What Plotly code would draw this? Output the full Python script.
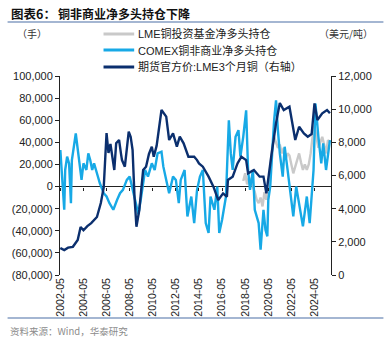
import plotly.graph_objects as go

# ---------------- data ----------------
comex_dates = ["2002-05","2002-07","2002-09","2002-10","2002-12","2003-02","2003-04","2003-05","2003-07","2003-09",
               "2003-12","2004-03","2004-05","2004-08","2004-10","2004-12","2005-02","2005-04","2005-07","2005-10",
               "2006-02","2006-05","2006-08","2006-12","2007-04","2007-07","2007-10","2008-02","2008-05","2008-09",
               "2008-11","2009-02","2009-05","2009-09","2009-12","2010-04","2010-07","2010-10","2011-02","2011-04",
               "2011-07","2011-10","2012-02","2012-05","2012-08","2012-10","2013-02","2013-05","2013-09","2013-12",
               "2014-03","2014-06","2014-09","2014-12","2015-03","2015-05","2015-09","2015-12","2016-02","2016-05",
               "2016-09","2016-12","2017-02","2017-04","2017-07","2017-10","2017-12","2018-03","2018-06","2018-08",
               "2018-10","2019-01","2019-03","2019-07","2019-09","2019-12","2020-02","2020-04","2020-05","2020-07",
               "2020-11","2021-01","2021-03","2021-05","2021-08","2021-10","2022-01","2022-05","2022-07","2022-10",
               "2023-02","2023-05","2023-09","2023-12","2024-04","2024-06","2024-09","2024-12","2025-02","2025-05",
               "2025-09"]
comex_values = [33000, 9000, -21000, 15000, 27000, 21000, -15000, 24000, 36000, 48000,
                27000, 6000, 21000, 15000, 30000, 24000, 15000, 21000, 12000, 3000,
                -6000, -9000, -15000, -21000, -12000, -6000, -3000, 6000, 9000, -6000,
                -15000, -25000, -9000, 15000, 9000, 21000, 15000, 30000, 31500, 18000,
                6000, -6000, 9000, 6000, -15000, 6000, 15000, -27000, -9000, -33000,
                -3000, 9000, 15000, -33000, -42000, -9000, -21000, 0, -42000, -30000,
                -9000, 60000, 30000, 15000, 45000, 51000, 27000, 45000, 69000, 15000,
                -3000, 15000, -21000, -33000, -57000, -21000, -39000, -45000, -12000, 0,
                60000, 78000, 51000, 30000, 9000, 36000, 15000, -15000, -27000, 0,
                -21000, -36000, -9000, -33000, 15000, 75000, 45000, 21000, 39000, 15000,
                42000]

lme_fund_dates = ["2018-03","2018-05","2018-07","2018-09","2018-11","2019-01","2019-03","2019-05","2019-07","2019-09",
                  "2019-11","2020-01","2020-03","2020-05","2020-07","2020-09","2020-11","2021-01","2021-03","2021-05",
                  "2021-07","2021-09","2021-11","2022-01","2022-03","2022-05","2022-07","2022-09","2022-11","2023-01",
                  "2023-03","2023-05","2023-07","2023-09","2023-11","2024-01","2024-03","2024-05","2024-07","2024-09",
                  "2024-11","2025-01","2025-03","2025-05","2025-07","2025-09"]
lme_fund_values = [5000, 12000, 2000, 8000, 5000, 0, -5000, -12000, -15000, -10000,
                   -18000, -5000, -12000, 0, 20000, 35000, 45000, 40000, 35000, 38000,
                   30000, 35000, 25000, 30000, 28000, 20000, 12000, 18000, 25000, 30000,
                   22000, 15000, 20000, 15000, 20000, 30000, 45000, 55000, 45000, 35000,
                   40000, 45000, 38000, 30000, 42000, 40000]

price_dates = ["2002-05","2002-09","2003-01","2003-06","2003-11","2004-02","2004-05","2004-09","2005-01","2005-07",
               "2005-11","2006-02","2006-05","2006-07","2006-09","2006-11","2007-01","2007-03","2007-06","2007-08",
               "2007-09","2007-12","2008-02","2008-04","2008-06","2008-08","2008-10","2008-12","2009-03","2009-07",
               "2009-10","2010-01","2010-04","2010-06","2010-09","2010-12","2011-02","2011-07","2011-10","2012-02",
               "2012-06","2012-09","2013-01","2013-06","2013-12","2014-03","2014-05","2014-09","2015-03","2015-08",
               "2016-01","2016-06","2016-10","2016-11","2017-04","2017-09","2018-01","2018-06","2018-08","2019-02",
               "2019-08","2019-12","2020-03","2020-08","2021-01","2021-05","2021-09","2022-03","2022-07","2022-09",
               "2023-01","2023-06","2023-10","2024-02","2024-05","2024-08","2025-01","2025-06","2025-09"]
price_values = [1630, 1500, 1650, 1700, 2110, 2900, 2700, 2950, 3130, 3500,
                4340, 5300, 8560, 7360, 7900, 7000, 6330, 7940, 8140, 7300,
                6930, 6530, 7600, 8640, 8340, 7540, 4720, 2910, 3920, 6330,
                6530, 7300, 7740, 7130, 7800, 8940, 9950, 9550, 8140, 8540,
                7740, 8340, 7940, 7130, 7130, 6930, 6730, 6530, 5930, 5330,
                4520, 4920, 4720, 5730, 5930, 6730, 7130, 6930, 6130, 6330,
                5930, 5930, 4920, 7130, 9160, 10370, 9950, 10150, 8740, 8140,
                8940, 8540, 8340, 8500, 10350, 9350, 9750, 9950, 9750]

left_tickvals = [100000, 80000, 60000, 40000, 20000, 0, -20000, -40000, -60000, -80000]
left_ticktext = ["100,000", "80,000", "60,000", "40,000", "20,000", "0",
                 "(20,000)", "(40,000)", "(60,000)", "(80,000)"]

names = ["LME铜投资基金净多头持仓", "COMEX铜非商业净多头持仓", "期货官方价:LME3个月铜（右轴）"]
colors = ["#C9C9C9", "#17A9E6", "#0B2F6E"]

FONT = "Arial, 'Liberation Sans', 'Noto Sans CJK SC', sans-serif"
CJK = "'Noto Sans CJK SC', sans-serif"

fig = go.Figure()
fig.add_trace(go.Scatter(x=lme_fund_dates, y=lme_fund_values, name=names[0], mode="lines",
                         line=dict(color=colors[0], width=2.4)))
fig.add_trace(go.Scatter(x=comex_dates, y=comex_values, name=names[1], mode="lines",
                         line=dict(color=colors[1], width=2.4)))
fig.add_trace(go.Scatter(x=price_dates, y=price_values, name=names[2], mode="lines", yaxis="y2",
                         line=dict(color=colors[2], width=2.4)))

xr = ["2002-04-20", "2025-10-05"]
fig.update_layout(
    width=388, height=343,
    margin=dict(l=57, r=57, t=76, b=68),
    paper_bgcolor="white", plot_bgcolor="white",
    font=dict(family=FONT, size=11, color="#222"),
    showlegend=False,
    xaxis=dict(type="date", range=xr, tickformat="%Y-%m", tick0="2002-05-01", dtick="M24",
               tickangle=-90, showgrid=False, showline=False, ticks="", zeroline=False,
               tickfont=dict(size=10.5)),
    xaxis2=dict(type="date", range=xr, overlaying="x", anchor="free", position=(275-187)/199,
                tick0="2002-05-01", dtick="M24", showticklabels=False, showgrid=False,
                showline=False, ticks="outside", ticklen=3, tickcolor="#222", zeroline=False),
    yaxis=dict(range=[-80000, 100000], tickvals=left_tickvals, ticktext=left_ticktext,
               showgrid=False, showline=True, linecolor="#222", linewidth=1,
               ticks="outside", ticklen=4, tickcolor="#222",
               zeroline=True, zerolinecolor="#222", zerolinewidth=1),
    yaxis2=dict(range=[0, 12000], overlaying="y", side="right", dtick=2000, tickformat=",",
                showgrid=False, showline=True, linecolor="#222", linewidth=1,
                ticks="outside", ticklen=4, tickcolor="#222", zeroline=False),
)

# invisible point keeps the zero-line tick axis active
fig.add_trace(go.Scatter(x=[xr[0]], y=[0], xaxis="x2", mode="markers",
                         marker=dict(opacity=0), showlegend=False, hoverinfo="skip"))

def px_x(p):
    return (p - 57) / 274

def px_y(p):
    return (275 - p) / 199

# manual legend (tighter row spacing than plotly's own legend allows)
legend_rows = [34, 50, 67]
for name, color, row in zip(names, colors, legend_rows):
    fig.add_shape(type="line", xref="paper", yref="paper", x0=px_x(101), x1=px_x(132),
                  y0=px_y(row), y1=px_y(row), line=dict(color=color, width=3))
    fig.add_annotation(text=name, xref="paper", yref="paper", x=px_x(134), y=px_y(row),
                       xanchor="left", yanchor="middle", showarrow=False,
                       font=dict(size=11, color="#222", family=FONT))

fig.add_annotation(text="<b>图表6：</b>", xref="paper", yref="paper",
                   x=px_x(5), y=px_y(13), xanchor="left", yanchor="middle", showarrow=False,
                   font=dict(size=12.5, color="#111", family=CJK))
fig.add_annotation(text="<b>铜非商业净多头持仓下降</b>", xref="paper", yref="paper",
                   x=px_x(53), y=px_y(13), xanchor="left", yanchor="middle", showarrow=False,
                   font=dict(size=12, color="#111", family=CJK))
fig.add_annotation(text="（手）", xref="paper", yref="paper", x=px_x(12), y=px_y(34),
                   xanchor="left", yanchor="middle", showarrow=False,
                   font=dict(size=10, color="#333", family=CJK))
fig.add_annotation(text="（美元/吨）", xref="paper", yref="paper", x=px_x(317), y=px_y(34),
                   xanchor="left", yanchor="middle", showarrow=False,
                   font=dict(size=10, color="#333", family=CJK))
fig.add_annotation(text="资料来源：Wind，华泰研究", xref="paper", yref="paper", x=px_x(4), y=px_y(331),
                   xanchor="left", yanchor="middle", showarrow=False,
                   font=dict(size=9.5, color="#8C8C8C", family=CJK))
fig.add_shape(type="line", xref="paper", yref="paper", x0=px_x(4), x1=px_x(384), y0=px_y(22), y1=px_y(22),
              line=dict(color="#4A6FA5", width=1.2))
fig.add_shape(type="line", xref="paper", yref="paper", x0=px_x(4), x1=px_x(384), y0=px_y(318), y1=px_y(318),
              line=dict(color="#4A6FA5", width=1.2))

fig.write_html("out.html")
